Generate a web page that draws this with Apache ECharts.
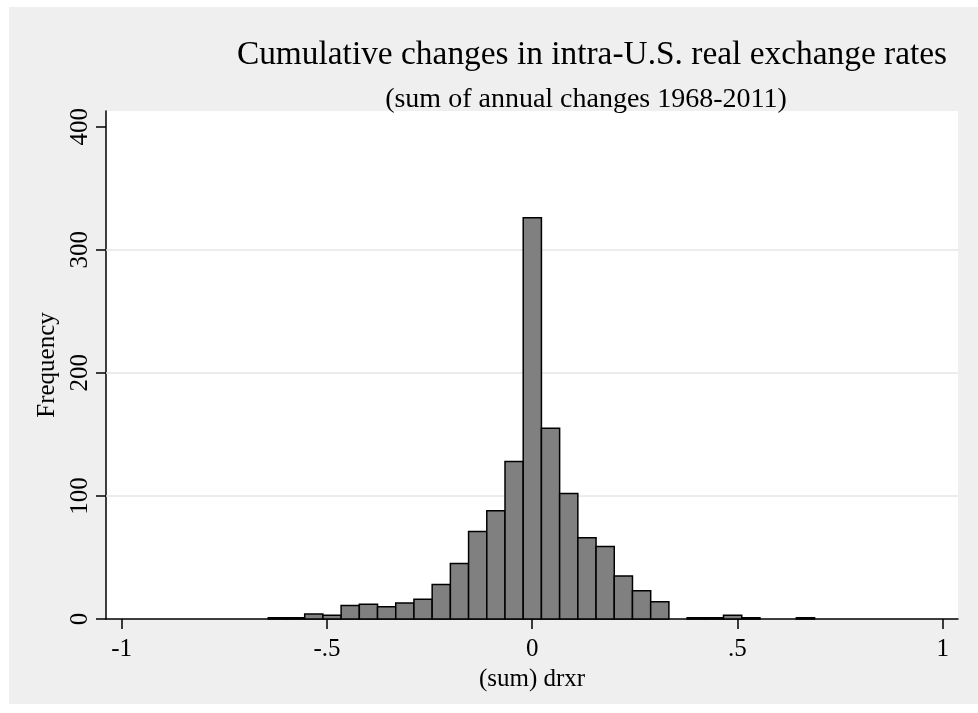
<!DOCTYPE html>
<html>
<head>
<meta charset="utf-8">
<script src="https://cdn.jsdelivr.net/npm/echarts@6/dist/echarts.min.js"></script>
<style>html,body{margin:0;padding:0;background:#fff;}#c{width:978px;height:713px;}</style>
</head>
<body>
<div id="c"></div>
<script>
// Histogram bins
var binStart = -0.6429;
var binWidth = 0.04436;
var counts = [1, 1, 4, 3, 11, 12, 10, 13, 16, 28, 45, 71, 88, 128, 326, 155, 102, 66, 59, 35, 23, 14, 0, 1, 1, 3, 1, 0, 0, 1];
var xTicks = [-1, -0.5, 0, 0.5, 1];
var xTickLabels = ['-1', '-.5', '0', '.5', '1'];
var yTicks = [0, 100, 200, 300, 400];
var gridValues = [100, 200, 300];
var titleText = 'Cumulative changes in intra-U.S. real exchange rates';
var subtitleText = '(sum of annual changes 1968-2011)';
var xName = '(sum) drxr';
var yName = 'Frequency';

var FONT = 'Liberation Serif';
var binData = counts.map(function (c, i) {
  return [binStart + i * binWidth, binStart + (i + 1) * binWidth, c];
});

var chart = echarts.init(document.getElementById('c'), null, {renderer: 'canvas'});
chart.setOption({
  backgroundColor: '#ffffff',
  animation: false,
  graphic: [{
    type: 'rect', z: -10, silent: true,
    shape: {x: 9, y: 7, width: 978, height: 697},
    style: {fill: '#efefef'}
  }],
  title: [{
    text: titleText, left: 587, top: 34, textAlign: 'center',
    textStyle: {fontFamily: FONT, fontSize: 33.4, fontWeight: 'normal', color: '#000'}
  }, {
    text: subtitleText, left: 581, top: 81, textAlign: 'center',
    textStyle: {fontFamily: FONT, fontSize: 28, fontWeight: 'normal', color: '#000'}
  }],
  grid: {left: 106, top: 111, right: 20, bottom: 94, show: true, backgroundColor: '#ffffff', borderWidth: 0},
  xAxis: {
    type: 'value', min: -1.0382, max: 1.0373,
    axisLine: {show: true, onZero: false, lineStyle: {color: '#000', width: 1.5}},
    axisTick: {show: true, length: 10, customValues: xTicks, lineStyle: {color: '#000', width: 1.5}},
    axisLabel: {
      customValues: xTicks, margin: 18, color: '#000', fontFamily: FONT, fontSize: 25,
      formatter: function (v) { var i = xTicks.indexOf(v); return i >= 0 ? xTickLabels[i] : ''; }
    },
    splitLine: {show: false},
    name: xName, nameLocation: 'middle', nameGap: 45,
    nameTextStyle: {fontFamily: FONT, fontSize: 25, color: '#000'}
  },
  yAxis: {
    type: 'value', min: 0, max: 412.7,
    axisLine: {show: true, onZero: false, lineStyle: {color: '#000', width: 1.5}},
    axisTick: {show: true, length: 10, customValues: yTicks, lineStyle: {color: '#000', width: 1.5}},
    axisLabel: {customValues: yTicks, rotate: 90, margin: 13, color: '#000', fontFamily: FONT, fontSize: 25},
    splitLine: {show: false},
    name: yName, nameLocation: 'middle', nameRotate: 90, nameGap: 39,
    nameTextStyle: {fontFamily: FONT, fontSize: 25, color: '#000'}
  },
  series: [{
    type: 'line', data: [], z: 1, silent: true,
    markLine: {
      z: 1, silent: true, symbol: 'none', label: {show: false},
      lineStyle: {color: '#e6e6e6', width: 1.5, type: 'solid'},
      data: gridValues.map(function (v) { return {yAxis: v}; })
    }
  }, {
    type: 'custom', z: 3,
    data: binData,
    encode: {x: [0, 1], y: 2},
    renderItem: function (params, api) {
      var p0 = api.coord([api.value(0), api.value(2)]);
      var p1 = api.coord([api.value(1), 0]);
      if (api.value(2) <= 0) return null;
      return {
        type: 'rect',
        shape: {x: p0[0], y: p0[1], width: p1[0] - p0[0], height: p1[1] - p0[1]},
        style: {fill: '#808080', stroke: '#000', lineWidth: 1.5}
      };
    }
  }]
});
</script>
</body>
</html>
